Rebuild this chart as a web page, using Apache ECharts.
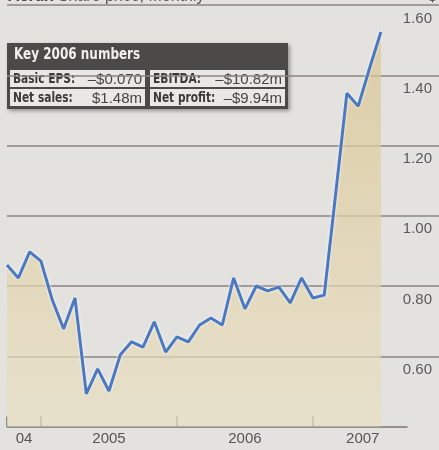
<!DOCTYPE html>
<html>
<head>
<meta charset="utf-8">
<style>
  html, body { margin: 0; padding: 0; background: #e4e2de; }
  #chart { width: 439px; height: 450px; }
</style>
<script src="https://cdn.jsdelivr.net/npm/echarts@6/dist/echarts.min.js"></script>
</head>
<body>
<div id="chart"></div>
<script>
// monthly closes, Oct 2004 .. Jul 2007
const months = [
  '2004-10', '2004-11', '2004-12',
  '2005-01', '2005-02', '2005-03', '2005-04', '2005-05', '2005-06',
  '2005-07', '2005-08', '2005-09', '2005-10', '2005-11', '2005-12',
  '2006-01', '2006-02', '2006-03', '2006-04', '2006-05', '2006-06',
  '2006-07', '2006-08', '2006-09', '2006-10', '2006-11', '2006-12',
  '2007-01', '2007-02', '2007-03', '2007-04', '2007-05', '2007-06', '2007-07'
];
const prices = [
  0.860, 0.823, 0.897,
  0.871, 0.760, 0.678, 0.766, 0.493, 0.564,
  0.501, 0.604, 0.641, 0.626, 0.698, 0.612,
  0.655, 0.641, 0.689, 0.709, 0.689, 0.823,
  0.735, 0.800, 0.786, 0.797, 0.752, 0.823,
  0.766, 0.774, 1.060, 1.349, 1.312, 1.420, 1.523
];
// x axis: tick positions (month index) and year labels
const tickPos = [0, 3, 15, 27];
const yearLabels = ['04', '2005', '2006', '2007'];
const yearLabelPos = [1.5, 9, 21, 31.4];

// key numbers box
const keyTitle = 'Key 2006 numbers';
const keyLabels = ['Basic EPS:', 'EBITDA:', 'Net sales:', 'Net profit:'];
const keyValues = ['\u2013$0.070', '\u2013$10.82m', '$1.48m', '\u2013$9.94m'];

const chart = echarts.init(document.getElementById('chart'));

// no condensed face installed, so squeeze the bold text sideways
const boldFont = 'bold 14px "DejaVu Sans", sans-serif';
const cellW = 135, cellH = 17;
const boxX = 7, boxY = 43;
const keyGraphics = [
  {
    type: 'rect', shape: { x: boxX, y: boxY, width: 281, height: 66 },
    style: { fill: '#4b4a48', shadowColor: 'rgba(0,0,0,0.35)', shadowBlur: 4, shadowOffsetX: 2, shadowOffsetY: 2 }
  },
  {
    type: 'text', x: boxX + 7, y: boxY + 5, scaleX: 0.8,
    style: { text: keyTitle, fill: '#f2f0ec', font: 'bold 15px "DejaVu Sans", sans-serif' }
  }
];
keyLabels.forEach(function (lab, i) {
  const col = i % 2, row = Math.floor(i / 2);
  const cx = boxX + 3 + col * (cellW + 5);
  const cy = boxY + 27 + row * (cellH + 2);
  keyGraphics.push({
    type: 'rect', shape: { x: cx, y: cy, width: cellW, height: cellH },
    style: { fill: '#eae8e4' }
  });
  keyGraphics.push({
    type: 'text', x: cx + 3, y: cy + cellH / 2 + 1, scaleX: 0.76,
    style: { text: lab, fill: '#3a3a3a', verticalAlign: 'middle', font: boldFont }
  });
  keyGraphics.push({
    type: 'text', x: cx + cellW - 3, y: cy + cellH / 2 + 1,
    style: { text: keyValues[i], fill: '#444', align: 'right', verticalAlign: 'middle',
      font: '15px "Liberation Sans", Arial, sans-serif' }
  });
});

const option = {
  backgroundColor: '#e4e2de',
  animation: false,
  grid: [
    { left: 7, right: 0, top: 5, bottom: 23.5 },
    { left: 7, width: 400, top: 5, bottom: 23.5 }
  ],
  xAxis: [
    { gridIndex: 0, type: 'value', min: 0, max: 432 / 11.33, show: false },
    {
      gridIndex: 1, type: 'value', min: 0, max: 400 / 11.33,
      splitLine: { show: false },
      axisLine: { show: true, lineStyle: { color: '#7a7773', width: 1.5 } },
      axisTick: { show: true, inside: true, length: 10, customValues: tickPos,
        lineStyle: { color: '#7a7773', width: 1.5 } },
      axisLabel: {
        customValues: yearLabelPos,
        formatter: function (v) { return yearLabels[yearLabelPos.indexOf(v)]; },
        color: '#555', fontSize: 15, margin: 5,
        fontFamily: '"Liberation Sans", Arial, sans-serif'
      }
    }
  ],
  yAxis: [
    {
      gridIndex: 0, type: 'value', position: 'right', min: 0.4, max: 1.6, interval: 0.2,
      axisLine: { show: false }, axisTick: { show: false },
      splitLine: { show: true, showMinLine: false, lineStyle: { color: '#8a8681', width: 1.5 } },
      axisLabel: {
        inside: true, margin: 7, showMinLabel: false,
        verticalAlign: 'top', padding: [6, 0, 0, 0],
        color: '#5a5a5a', fontSize: 15,
        fontFamily: '"Liberation Sans", Arial, sans-serif',
        formatter: function (v) { return v.toFixed(2); }
      }
    },
    { gridIndex: 1, type: 'value', min: 0.4, max: 1.6, show: false }
  ],
  graphic: [
    {
      type: 'text', x: 8, y: -11,
      style: {
        text: '{b|Acrux} Share price, Monthly',
        fill: '#555', font: '16px "Liberation Sans", Arial, sans-serif',
        rich: { b: { fontWeight: 'bold', fill: '#444', fontSize: 16 } }
      }
    },
    {
      type: 'text', x: 437, y: -11,
      style: { text: '$', align: 'right', fill: '#555', font: '16px "Liberation Sans", Arial, sans-serif' }
    }
  ].concat(keyGraphics),
  series: [
    {
      type: 'line',
      xAxisIndex: 1, yAxisIndex: 1,
      data: prices.map(function (p, i) { return [i, p]; }),
      symbol: 'none',
      lineStyle: { color: '#4a78c2', width: 3, shadowColor: 'rgba(255,255,255,0.9)', shadowBlur: 3 },
      areaStyle: {
        origin: 'start',
        color: new echarts.graphic.LinearGradient(0, 0, 0, 1, [
          { offset: 0, color: '#d8c48e' },
          { offset: 1, color: '#e8dfc3' }
        ])
      },
      z: 3
    }
  ]
};
chart.setOption(option);
</script>
</body>
</html>
